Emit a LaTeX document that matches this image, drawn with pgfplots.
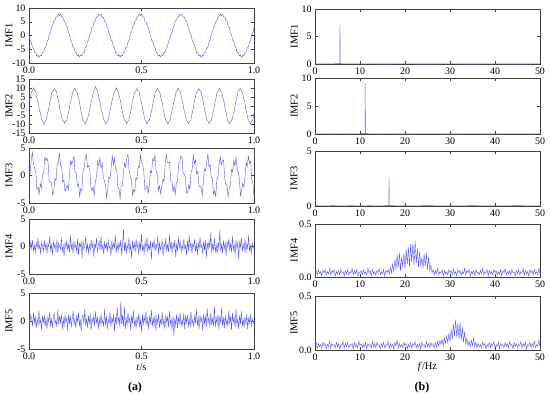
\documentclass[border=0pt]{standalone}
\usepackage{pgfplots}
\pgfplotsset{compat=1.18}
\usepackage{fontspec}
\setmainfont{Liberation Serif}
\definecolor{framecol}{RGB}{64,64,64}
\definecolor{sigcol}{RGB}{85,85,255}
\pgfplotsset{
  base/.style={
    scale only axis, width=225bp,
    axis line style={framecol, line width=0.6bp},
    tick style={framecol, line width=0.5bp},
    tick align=inside, major tick length=3bp,
    tick label style={font=\fontsize{10}{11}\selectfont, text=black},
    label style={font=\fontsize{10.5}{12}\selectfont},
    ylabel style={anchor=center},
    clip=true,
  },
  leftax/.style={base, xmin=0, xmax=1000, xtick={0,500,1000}, xticklabels={0.0,0.5,1.0},
    ylabel style={at={(axis description cs:-0.089,0.5)}}},
  rightax/.style={base, xmin=0, xmax=50, xtick={0,10,20,30,40,50}, xticklabels={0,10,20,30,40,50},
    ylabel style={at={(axis description cs:-0.093,0.5)}}},
  sig/.style={sigcol, line width=0.4bp},
}
\begin{document}
\begin{tikzpicture}
\useasboundingbox (0,0) rectangle (550bp,-398bp);
% ---------------- left column: time domain ----------------
\begin{axis}[leftax, at={(29bp,-8bp)}, anchor=north west, height=55bp,
  ymin=-10, ymax=10, ytick={-10,-5,0,5,10}, yticklabels={-10,-5,0,5,10}, ylabel={IMF1}]
\addplot[sig] coordinates {(0,0.3)(5,-1.5)(10,-2.3)(15,-4.2)(20,-4.6)(25,-6.1)(30,-6.1)(35,-7.6)(40,-7.1)(45,-7.9)(50,-7.2)(55,-7.4)(60,-6.0)(65,-6.0)(70,-4.5)(75,-4.2)(80,-2.4)(85,-1.6)(90,0.4)(95,1.1)(100,2.9)(105,3.5)(110,5.2)(115,5.6)(120,6.8)(125,6.7)(130,7.9)(135,7.2)(140,7.8)(145,6.9)(150,6.8)(155,5.4)(160,5.0)(165,3.5)(170,3.0)(175,1.1)(180,0.3)(185,-1.7)(190,-2.4)(195,-4.1)(200,-4.4)(205,-6.0)(210,-6.2)(215,-7.5)(220,-7.1)(225,-7.8)(230,-7.0)(235,-7.4)(240,-6.3)(245,-6.2)(250,-4.5)(255,-4.0)(260,-2.2)(265,-1.6)(270,0.2)(275,1.0)(280,3.0)(285,3.6)(290,5.1)(295,5.4)(300,6.8)(305,6.8)(310,7.8)(315,7.3)(320,7.7)(325,6.7)(330,6.7)(335,5.5)(340,5.2)(345,3.6)(350,2.9)(355,0.9)(360,0.2)(365,-1.6)(370,-2.2)(375,-4.0)(380,-4.5)(385,-6.2)(390,-6.2)(395,-7.4)(400,-7.0)(405,-7.9)(410,-7.2)(415,-7.4)(420,-6.1)(425,-6.0)(430,-4.5)(435,-4.2)(440,-2.4)(445,-1.6)(450,0.4)(455,1.1)(460,2.9)(465,3.4)(470,5.0)(475,5.5)(480,6.9)(485,6.9)(490,7.9)(495,7.2)(500,7.8)(505,6.8)(510,6.7)(515,5.4)(520,5.1)(525,3.6)(530,3.0)(535,1.0)(540,0.2)(545,-1.7)(550,-2.3)(555,-4.0)(560,-4.4)(565,-6.1)(570,-6.3)(575,-7.5)(580,-7.1)(585,-7.8)(590,-7.0)(595,-7.3)(600,-6.2)(605,-6.2)(610,-4.6)(615,-4.1)(620,-2.2)(625,-1.5)(630,0.3)(635,0.9)(640,2.8)(645,3.5)(650,5.2)(655,5.6)(660,6.8)(665,6.7)(670,7.8)(675,7.3)(680,7.7)(685,6.7)(690,6.7)(695,5.5)(700,5.2)(705,3.6)(710,2.9)(715,0.9)(720,0.2)(725,-1.6)(730,-2.2)(735,-4.0)(740,-4.5)(745,-6.2)(750,-6.2)(755,-7.4)(760,-7.0)(765,-7.9)(770,-7.2)(775,-7.4)(780,-6.1)(785,-6.0)(790,-4.5)(795,-4.2)(800,-2.4)(805,-1.6)(810,0.4)(815,1.1)(820,2.9)(825,3.4)(830,5.0)(835,5.5)(840,6.9)(845,6.9)(850,7.8)(855,7.2)(860,7.7)(865,6.7)(870,6.7)(875,5.5)(880,5.2)(885,3.6)(890,2.9)(895,0.9)(900,0.2)(905,-1.6)(910,-2.2)(915,-4.0)(920,-4.5)(925,-6.2)(930,-6.2)(935,-7.4)(940,-7.0)(945,-7.9)(950,-7.2)(955,-7.4)(960,-6.1)(965,-6.0)(970,-4.5)(975,-4.2)(980,-2.4)(985,-1.6)(990,0.4)(995,1.1)(1000,2.9)};
\end{axis}
\begin{axis}[leftax, at={(29bp,-79bp)}, anchor=north west, height=54bp,
  ymin=-15, ymax=15, ytick={-15,-10,-5,0,5,10,15}, yticklabels={-15,-10,-5,0,5,10,15}, ylabel={IMF2}]
\addplot[sig] coordinates {(0,2.1)(5.1,4.3)(10.2,7.5)(15.3,8.6)(20.4,10.1)(25.5,8.7)(30.6,7.6)(35.7,4.2)(40.8,1.8)(45.9,-2.1)(51,-4.3)(56.1,-7.4)(61.2,-8.6)(66.3,-10.0)(71.4,-8.7)(76.5,-7.6)(81.6,-4.2)(86.7,-2.1)(91.8,1.8)(96.9,4.6)(102,7.7)(107.1,8.4)(112.2,9.7)(117.3,8.6)(122.4,7.9)(127.5,4.6)(132.6,2.0)(137.7,-2.3)(142.8,-4.7)(147.9,-7.7)(153,-8.4)(158.1,-9.6)(163.2,-8.6)(168.3,-7.8)(173.4,-4.6)(178.5,-2.0)(183.6,2.3)(188.7,4.4)(193.8,7.4)(198.9,8.7)(204,9.9)(209.1,8.4)(214.2,7.5)(219.3,4.5)(224.4,2.3)(229.5,-1.9)(234.6,-4.5)(239.7,-7.9)(244.8,-8.8)(249.9,-9.9)(255,-8.4)(260.1,-7.4)(265.2,-4.5)(270.3,-2.2)(275.4,1.9)(280.5,4.5)(285.6,7.9)(290.7,8.5)(295.8,10.8)(300.9,9.4)(306,7.7)(311.1,4.3)(316.2,1.9)(321.3,-2.0)(326.4,-4.2)(331.5,-7.5)(336.6,-8.6)(341.7,-10.1)(346.8,-8.8)(351.9,-7.7)(357,-4.3)(362.1,-1.8)(367.2,2.0)(372.3,4.3)(377.4,7.5)(382.5,8.6)(387.6,10.1)(392.7,8.5)(397.8,7.4)(402.9,4.6)(408,2.1)(413.1,-2.2)(418.2,-4.6)(423.3,-7.6)(428.4,-8.3)(433.5,-9.7)(438.6,-8.6)(443.7,-7.9)(448.8,-4.7)(453.9,-2.1)(459,2.2)(464.1,4.7)(469.2,7.6)(474.3,8.4)(479.4,9.7)(484.5,8.6)(489.6,7.9)(494.7,4.4)(499.8,1.8)(504.9,-1.9)(510,-4.4)(515.1,-7.8)(520.2,-8.7)(525.3,-9.8)(530.4,-8.3)(535.5,-7.5)(540.6,-4.5)(545.7,-2.3)(550.8,1.8)(555.9,4.4)(561,7.8)(566.1,8.8)(571.2,9.8)(576.3,8.4)(581.4,7.5)(586.5,4.5)(591.6,2.3)(596.7,-2.1)(601.8,-4.7)(606.9,-7.5)(612,-8.5)(617.1,-10.0)(622.2,-8.7)(627.3,-7.6)(632.4,-4.2)(637.5,-1.9)(642.6,2.0)(647.7,4.2)(652.8,7.4)(657.9,8.5)(663,10.0)(668.1,8.8)(673.2,7.6)(678.3,4.3)(683.4,1.9)(688.5,-2.0)(693.6,-4.2)(698.7,-7.7)(703.8,-8.8)(708.9,-9.7)(714,-8.5)(719.1,-7.8)(724.2,-4.6)(729.3,-2.0)(734.4,2.3)(739.5,4.6)(744.6,7.6)(749.7,8.3)(754.8,9.6)(759.9,8.5)(765,7.8)(770.1,4.7)(775.2,2.0)(780.3,-2.2)(785.4,-4.6)(790.5,-7.6)(795.6,-8.3)(800.7,-9.9)(805.8,-8.8)(810.9,-7.5)(816,-4.4)(821.1,-2.2)(826.2,1.9)(831.3,4.5)(836.4,7.9)(841.5,8.7)(846.6,9.8)(851.7,8.3)(856.8,7.4)(861.9,4.4)(867,2.2)(872.1,-1.8)(877.2,-4.5)(882.3,-7.8)(887.4,-8.7)(892.5,-9.8)(897.6,-8.3)(902.7,-7.5)(907.8,-4.5)(912.9,-2.3)(918,1.8)(923.1,4.4)(928.2,7.8)(933.3,8.8)(938.4,9.8)(943.5,8.4)(948.6,7.5)(953.7,4.5)(958.8,2.3)(963.9,-2.1)(969,-4.7)(974.1,-7.5)(979.2,-8.5)(984.3,-10.0)(989.4,-8.7)(994.5,-7.6)(999.6,-4.2)};
\end{axis}
\begin{axis}[leftax, at={(29bp,-148bp)}, anchor=north west, height=55bp,
  ymin=-5, ymax=5, ytick={-5,0,5}, yticklabels={-5,0,5}, ylabel={IMF3}]
\addplot[sig] coordinates {(0,0.8)(5,0.4)(10,2.9)(15,4.2)(20,2.0)(25,1.3)(30,0.9)(35,-2.5)(40,-2.1)(45,-3.4)(50,-1.5)(55,-2.3)(60,0.2)(65,0.3)(70,3.3)(75,2.7)(80,3.2)(85,2.3)(90,-1.1)(95,-1.2)(100,-1.4)(105,-3.6)(110,-2.8)(115,-0.6)(120,-1.0)(125,2.0)(130,2.2)(135,4.1)(140,1.8)(145,1.7)(150,-1.2)(155,-0.8)(160,-2.9)(165,-2.4)(170,-1.8)(175,-2.6)(180,0.3)(185,2.7)(190,2.0)(195,2.8)(200,3.5)(205,0.5)(210,0.5)(215,-1.9)(220,-1.5)(225,-3.8)(230,-2.4)(235,-2.7)(240,0.7)(245,1.2)(250,3.2)(255,3.8)(260,1.5)(265,1.8)(270,1.2)(275,-2.1)(280,-2.8)(285,-2.1)(290,-3.6)(295,-1.0)(300,-0.4)(305,2.6)(310,1.8)(315,3.2)(320,1.4)(325,2.2)(330,-0.3)(335,-0.9)(340,-1.8)(345,-4.1)(350,-2.3)(355,-0.3)(360,-0.6)(365,1.3)(370,3.5)(375,2.0)(380,3.1)(385,1.1)(390,1.1)(395,-2.3)(400,-2.4)(405,-4.2)(410,-1.9)(415,-1.8)(420,0.6)(425,2.3)(430,1.5)(435,3.3)(440,3.8)(445,0.9)(450,-0.2)(455,-0.6)(460,-3.6)(465,-2.5)(470,-3.0)(475,-0.4)(480,-0.8)(485,1.7)(490,1.4)(495,3.7)(500,2.3)(505,2.1)(510,0.8)(515,-2.6)(520,-2.3)(525,-1.8)(530,-3.2)(535,-1.7)(540,0.9)(545,0.5)(550,3.1)(555,2.6)(560,3.7)(565,0.7)(570,0.2)(575,-2.7)(580,-1.9)(585,-3.3)(590,-2.0)(595,-0.7)(600,-1.1)(605,1.8)(610,3.8)(615,2.4)(620,2.4)(625,2.4)(630,-1.0)(635,-1.0)(640,-3.0)(645,-1.9)(650,-3.4)(655,-1.3)(660,-1.2)(665,2.2)(670,2.3)(675,3.6)(680,3.4)(685,0.4)(690,0.3)(695,-0.3)(700,-3.2)(705,-3.2)(710,-1.7)(715,-2.5)(720,0.5)(725,1.1)(730,3.7)(735,2.2)(740,2.8)(745,0.3)(750,0.7)(755,-1.8)(760,-2.0)(765,-2.2)(770,-3.7)(775,-1.2)(780,1.2)(785,0.9)(790,2.4)(795,3.9)(800,1.6)(805,2.0)(810,-0.4)(815,-0.4)(820,-3.4)(825,-2.8)(830,-3.8)(835,-0.8)(840,-0.3)(845,2.1)(850,3.4)(855,1.9)(860,2.9)(865,2.7)(870,-0.6)(875,-1.7)(880,-1.7)(885,-4.0)(890,-2.1)(895,-1.9)(900,1.1)(905,0.7)(910,2.8)(915,1.8)(920,3.3)(925,1.2)(930,0.6)(935,-0.7)(940,-3.7)(945,-2.7)(950,-1.4)(955,-2.1)(960,-0.2)(965,2.4)(970,1.6)(975,3.5)(980,2.2)(985,2.6)(990,-0.8)(995,-1.3)(1000,-3.8)};
\end{axis}
\begin{axis}[leftax, at={(29bp,-219bp)}, anchor=north west, height=55bp,
  ymin=-5, ymax=5, ytick={-5,0,5}, yticklabels={-5,0,5}, ylabel={IMF4}]
\addplot[sig] coordinates {(0,0.4)(4,-0.6)(8,0.9)(12,-0.3)(16,1.2)(20,-0.8)(24,0.2)(28,-1.1)(32,0.7)(36,-0.2)(40,1.5)(44,-0.5)(48,0.3)(52,-1.4)(56,0.8)(60,0.1)(64,-0.9)(68,1.1)(72,-0.4)(76,0.6)(80,-1.3)(84,0.5)(88,-0.1)(92,1.8)(96,-0.7)(100,0.3)(104,-1.6)(108,0.9)(112,-0.2)(116,0.4)(120,-0.8)(124,1.3)(128,-1.2)(132,0.6)(136,0.0)(140,-0.5)(144,1.6)(148,-0.9)(152,0.2)(156,-1.8)(160,0.7)(164,-0.3)(168,1.0)(172,-0.6)(176,0.4)(180,-1.1)(184,2.1)(188,-0.4)(192,0.5)(196,-1.3)(200,0.9)(204,-0.2)(208,0.3)(212,-0.9)(216,1.4)(220,-1.5)(224,0.6)(228,-0.1)(232,0.8)(236,-2.2)(240,1.1)(244,-0.5)(248,0.2)(252,1.7)(256,-0.8)(260,0.4)(264,-1.2)(268,0.3)(272,-0.6)(276,1.2)(280,-0.3)(284,0.7)(288,-1.9)(292,0.5)(296,-0.2)(300,1.5)(304,-1.0)(308,0.1)(312,0.9)(316,-0.7)(320,1.9)(324,-0.6)(328,0.3)(332,-1.4)(336,0.8)(340,-0.3)(344,0.5)(348,-1.0)(352,1.3)(356,-0.4)(360,0.2)(364,-1.7)(368,1.0)(372,-0.5)(376,0.6)(380,-0.2)(384,2.0)(388,-1.1)(392,0.4)(396,-0.8)(400,0.7)(404,-0.3)(408,1.2)(412,-1.6)(416,0.5)(420,3.2)(424,-0.9)(428,0.8)(432,-1.3)(436,0.3)(440,-0.5)(444,1.6)(448,-0.8)(452,0.2)(456,-2.1)(460,1.1)(464,-0.4)(468,0.6)(472,-1.0)(476,1.4)(480,-0.2)(484,0.5)(488,-1.5)(492,0.9)(496,-0.6)(500,2.3)(504,-0.7)(508,0.1)(512,-1.2)(516,0.8)(520,-0.4)(524,1.7)(528,-1.1)(532,0.3)(536,-0.5)(540,1.0)(544,-2.4)(548,0.6)(552,-0.1)(556,1.3)(560,-0.9)(564,0.4)(568,-0.3)(572,1.8)(576,-1.4)(580,0.7)(584,-0.6)(588,0.2)(592,1.1)(596,-1.7)(600,0.5)(604,-0.2)(608,1.5)(612,-0.8)(616,0.3)(620,-1.0)(624,2.2)(628,-0.5)(632,0.9)(636,-1.3)(640,0.6)(644,-0.3)(648,1.2)(652,-1.9)(656,0.4)(660,-0.7)(664,1.6)(668,-0.2)(672,0.8)(676,-1.1)(680,0.3)(684,-0.6)(688,1.4)(692,-0.4)(696,0.2)(700,-1.5)(704,1.0)(708,-0.8)(712,2.1)(716,-0.3)(720,0.7)(724,-1.2)(728,0.5)(732,-0.1)(736,1.3)(740,-0.9)(744,0.4)(748,-1.6)(752,0.8)(756,-0.5)(760,1.7)(764,-0.2)(768,0.3)(772,-1.3)(776,0.9)(780,-0.7)(784,1.2)(788,-2.0)(792,0.6)(796,-0.4)(800,1.0)(804,-0.3)(808,2.5)(812,-1.1)(816,0.4)(820,-0.6)(824,1.5)(828,-0.9)(832,0.2)(836,-1.4)(840,0.8)(844,-0.5)(848,3.0)(852,-0.8)(856,0.3)(860,-1.2)(864,1.1)(868,-0.4)(872,0.6)(876,-1.8)(880,0.9)(884,-0.2)(888,1.4)(892,-0.7)(896,0.5)(900,-1.0)(904,1.9)(908,-0.6)(912,0.3)(916,-1.5)(920,1.2)(924,-0.4)(928,0.7)(932,-2.3)(936,0.8)(940,-0.1)(944,1.6)(948,-0.9)(952,0.4)(956,-0.7)(960,1.3)(964,-1.1)(968,0.5)(972,-0.3)(976,2.0)(980,-0.8)(984,0.2)(988,-1.2)(992,0.6)(996,-0.4)(1000,0.3)};
\end{axis}
\begin{axis}[leftax, at={(29bp,-293bp)}, anchor=north west, height=56bp,
  ymin=-5, ymax=5, ytick={-5,0,5}, yticklabels={-5,0,5}, ylabel={IMF5},
  xlabel={\textit{t}/s}, xlabel style={at={(axis description cs:0.5,0)}, anchor=center, yshift=-18bp}]
\addplot[sig] coordinates {(0,0.6)(4,-0.4)(8,1.2)(12,0.3)(16,-0.9)(20,1.5)(24,-0.2)(28,0.8)(32,-1.3)(36,0.4)(40,-0.7)(44,1.9)(48,-0.5)(52,0.2)(56,-1.6)(60,0.9)(64,-0.3)(68,1.1)(72,-1.0)(76,0.5)(80,-1.4)(84,0.7)(88,-0.2)(92,1.6)(96,-0.8)(100,0.3)(104,-1.1)(108,0.6)(112,1.4)(116,-0.5)(120,0.2)(124,-1.2)(128,2.0)(132,-0.6)(136,0.8)(140,-0.3)(144,1.3)(148,-1.5)(152,0.4)(156,-0.9)(160,1.0)(164,-0.2)(168,0.5)(172,-1.7)(176,1.2)(180,-0.4)(184,0.7)(188,-1.0)(192,0.3)(196,1.8)(200,-0.6)(204,0.4)(208,-1.3)(212,0.9)(216,-0.1)(220,1.5)(224,-0.8)(228,0.2)(232,-1.9)(236,0.6)(240,1.1)(244,-0.5)(248,2.1)(252,-0.7)(256,0.3)(260,-1.2)(264,0.8)(268,-0.4)(272,1.4)(276,-1.6)(280,0.5)(284,-0.2)(288,1.0)(292,-0.9)(296,1.7)(300,-0.3)(304,0.6)(308,-1.4)(312,0.4)(316,-0.8)(320,1.3)(324,-0.5)(328,0.2)(332,-1.1)(336,2.2)(340,-0.7)(344,0.9)(348,-1.5)(352,0.3)(356,-0.4)(360,1.6)(364,-1.0)(368,0.5)(372,-0.2)(376,1.2)(380,-1.8)(384,0.7)(388,-0.6)(392,2.4)(396,-0.3)(400,0.8)(404,-1.2)(408,3.5)(412,-0.5)(416,1.1)(420,-0.9)(424,2.6)(428,-1.4)(432,0.4)(436,-0.7)(440,1.5)(444,-0.3)(448,0.6)(452,-1.6)(456,1.0)(460,-0.4)(464,1.9)(468,-0.8)(472,0.2)(476,-1.3)(480,0.9)(484,-0.5)(488,1.4)(492,-1.1)(496,0.3)(500,-2.0)(504,1.2)(508,-0.6)(512,0.7)(516,-0.2)(520,1.7)(524,-0.9)(528,0.4)(532,-1.5)(536,0.8)(540,-0.3)(544,2.0)(548,-1.0)(552,0.5)(556,-0.7)(560,1.1)(564,-1.8)(568,0.6)(572,-0.4)(576,1.3)(580,-1.2)(584,0.2)(588,-0.6)(592,1.6)(596,-0.9)(600,0.4)(604,-1.4)(608,1.0)(612,-0.2)(616,0.7)(620,-1.1)(624,1.8)(628,-0.5)(632,0.3)(636,-1.6)(640,0.9)(644,-2.6)(648,0.5)(652,-0.8)(656,1.2)(660,-1.3)(664,0.6)(668,-0.4)(672,1.5)(676,-1.0)(680,0.2)(684,-0.7)(688,1.4)(692,-1.5)(696,0.8)(700,-0.3)(704,1.1)(708,-0.9)(712,0.4)(716,-1.2)(720,1.7)(724,-0.6)(728,0.3)(732,-1.1)(736,0.9)(740,-0.4)(744,2.1)(748,-0.8)(752,0.5)(756,-1.4)(760,1.0)(764,-0.2)(768,0.6)(772,-1.7)(776,1.3)(780,-0.5)(784,0.8)(788,-1.0)(792,2.3)(796,-0.3)(800,0.7)(804,-1.2)(808,1.5)(812,-0.6)(816,0.4)(820,-0.9)(824,2.6)(828,-1.1)(832,0.6)(836,-0.5)(840,1.2)(844,-1.5)(848,0.9)(852,-0.3)(856,2.4)(860,-0.8)(864,0.5)(868,-1.3)(872,1.1)(876,-0.7)(880,0.3)(884,-1.0)(888,1.9)(892,-0.4)(896,0.8)(900,-1.6)(904,1.4)(908,-0.2)(912,0.6)(916,-1.1)(920,2.2)(924,-0.7)(928,0.4)(932,-1.4)(936,1.0)(940,-0.5)(944,1.7)(948,-0.9)(952,0.3)(956,-1.2)(960,0.8)(964,-0.6)(968,1.3)(972,-1.5)(976,0.5)(980,-0.3)(984,1.0)(988,-0.8)(992,0.4)(996,-0.2)(1000,-0.6)};
\end{axis}
% ---------------- right column: spectra ----------------
\begin{axis}[rightax, at={(315bp,-9bp)}, anchor=north west, height=55bp,
  ymin=0, ymax=10, ytick={0,5,10}, yticklabels={0,5,10}, ylabel={IMF1}]
\addplot[sig] coordinates {(0,0.05)(1,0.03)(2,0.04)(3,0.03)(4,0.05)(5,0.06)(5.5,0.08)(5.55,7.3)(5.6,0.08)(6,0.05)(7,0.03)(8,0.04)(10,0.03)(12,0.04)(15,0.03)(20,0.04)(25,0.03)(30,0.04)(35,0.03)(40,0.04)(45,0.03)(50,0.03)};
\end{axis}
\begin{axis}[rightax, at={(315bp,-78bp)}, anchor=north west, height=56bp,
  ymin=0, ymax=10, ytick={0,5,10}, yticklabels={0,5,10}, ylabel={IMF2}]
\addplot[sig] coordinates {(0,0.04)(1,0.03)(2,0.05)(4,0.03)(6,0.04)(8,0.03)(10,0.05)(10.9,0.06)(11.1,0.08)(11.15,9.1)(11.2,0.08)(12,0.04)(14,0.03)(16,0.04)(20,0.03)(25,0.04)(30,0.03)(35,0.04)(40,0.03)(45,0.04)(50,0.03)};
\end{axis}
\begin{axis}[rightax, at={(315bp,-151bp)}, anchor=north west, height=55bp,
  ymin=0, ymax=5, ytick={0,5}, yticklabels={0,5}, ylabel={IMF3}]
\addplot[sig] coordinates {(0,0.03)(2,0.02)(4,0.03)(6,0.02)(8,0.03)(10,0.02)(12,0.03)(14,0.02)(16,0.03)(16.4,0.04)(16.45,2.55)(16.5,0.04)(17,0.03)(20,0.02)(25,0.03)(30,0.02)(35,0.03)(40,0.02)(45,0.03)(50,0.02)};
\end{axis}
\begin{axis}[rightax, at={(315bp,-224bp)}, anchor=north west, height=53bp,
  ymin=0, ymax=0.5, ytick={0,0.5}, yticklabels={0.0,0.5}, ylabel={IMF4}]
\addplot[sig] coordinates {(0,0.03)(0.25,0.06)(0.5,0.02)(0.75,0.07)(1,0.03)(1.25,0.05)(1.5,0.01)(1.75,0.06)(2,0.04)(2.25,0.07)(2.5,0.02)(2.75,0.05)(3,0.03)(3.25,0.08)(3.5,0.02)(3.75,0.06)(4,0.04)(4.25,0.07)(4.5,0.01)(4.75,0.05)(5,0.03)(5.25,0.06)(5.5,0.02)(5.75,0.07)(6,0.04)(6.25,0.05)(6.5,0.01)(6.75,0.06)(7,0.03)(7.25,0.07)(7.5,0.02)(7.75,0.05)(8,0.04)(8.25,0.08)(8.5,0.02)(8.75,0.06)(9,0.03)(9.25,0.07)(9.5,0.01)(9.75,0.05)(10,0.04)(10.25,0.06)(10.5,0.02)(10.75,0.07)(11,0.03)(11.25,0.05)(11.5,0.02)(11.75,0.08)(12,0.04)(12.25,0.06)(12.5,0.01)(12.75,0.07)(13,0.03)(13.25,0.05)(13.5,0.02)(13.75,0.06)(14,0.04)(14.25,0.08)(14.5,0.02)(14.75,0.05)(15,0.03)(15.25,0.07)(15.5,0.01)(15.75,0.06)(16,0.04)(16.25,0.07)(16.5,0.03)(16.75,0.09)(17,0.04)(17.25,0.12)(17.5,0.05)(17.75,0.17)(18,0.07)(18.25,0.21)(18.5,0.09)(18.75,0.23)(19,0.06)(19.25,0.19)(19.5,0.10)(19.75,0.22)(20,0.08)(20.25,0.26)(20.5,0.12)(20.75,0.28)(21,0.10)(21.25,0.31)(21.5,0.14)(21.75,0.32)(22,0.11)(22.25,0.34)(22.5,0.13)(22.75,0.27)(23,0.09)(23.25,0.24)(23.5,0.11)(23.75,0.18)(24,0.08)(24.25,0.22)(24.5,0.10)(24.75,0.23)(25,0.07)(25.25,0.19)(25.5,0.06)(25.75,0.11)(26,0.04)(26.25,0.07)(26.5,0.02)(26.75,0.06)(27,0.03)(27.25,0.08)(27.5,0.02)(27.75,0.05)(28,0.04)(28.25,0.07)(28.5,0.01)(28.75,0.06)(29,0.03)(29.25,0.05)(29.5,0.02)(29.75,0.07)(30,0.04)(30.25,0.06)(30.5,0.02)(30.75,0.08)(31,0.03)(31.25,0.05)(31.5,0.01)(31.75,0.07)(32,0.04)(32.25,0.06)(32.5,0.02)(32.75,0.05)(33,0.03)(33.25,0.08)(33.5,0.02)(33.75,0.06)(34,0.04)(34.25,0.07)(34.5,0.01)(34.75,0.05)(35,0.03)(35.25,0.06)(35.5,0.02)(35.75,0.07)(36,0.04)(36.25,0.05)(36.5,0.02)(36.75,0.06)(37,0.03)(37.25,0.08)(37.5,0.02)(37.75,0.05)(38,0.04)(38.25,0.07)(38.5,0.01)(38.75,0.06)(39,0.03)(39.25,0.05)(39.5,0.02)(39.75,0.07)(40,0.04)(40.25,0.06)(40.5,0.02)(40.75,0.05)(41,0.03)(41.25,0.07)(41.5,0.01)(41.75,0.06)(42,0.04)(42.25,0.08)(42.5,0.02)(42.75,0.05)(43,0.03)(43.25,0.06)(43.5,0.02)(43.75,0.07)(44,0.04)(44.25,0.05)(44.5,0.01)(44.75,0.06)(45,0.03)(45.25,0.07)(45.5,0.02)(45.75,0.05)(46,0.04)(46.25,0.08)(46.5,0.02)(46.75,0.06)(47,0.03)(47.25,0.05)(47.5,0.01)(47.75,0.07)(48,0.04)(48.25,0.06)(48.5,0.02)(48.75,0.07)(49,0.03)(49.25,0.05)(49.5,0.02)(49.75,0.08)(50,0.03)};
\end{axis}
\begin{axis}[rightax, at={(315bp,-296bp)}, anchor=north west, height=54bp,
  ymin=0, ymax=0.5, ytick={0,0.5}, yticklabels={0.0,0.5}, ylabel={IMF5},
  xlabel={\textit{f}/Hz}, xlabel style={at={(axis description cs:0.5,0)}, anchor=center, yshift=-17bp}]
\addplot[sig] coordinates {(0,0.04)(0.25,0.07)(0.5,0.02)(0.75,0.06)(1,0.03)(1.25,0.05)(1.5,0.02)(1.75,0.07)(2,0.04)(2.25,0.06)(2.5,0.01)(2.75,0.05)(3,0.03)(3.25,0.08)(3.5,0.02)(3.75,0.06)(4,0.04)(4.25,0.05)(4.5,0.02)(4.75,0.07)(5,0.03)(5.25,0.06)(5.5,0.01)(5.75,0.05)(6,0.04)(6.25,0.08)(6.5,0.02)(6.75,0.06)(7,0.03)(7.25,0.07)(7.5,0.02)(7.75,0.05)(8,0.04)(8.25,0.06)(8.5,0.01)(8.75,0.07)(9,0.03)(9.25,0.05)(9.5,0.02)(9.75,0.08)(10,0.04)(10.25,0.06)(10.5,0.02)(10.75,0.05)(11,0.03)(11.25,0.07)(11.5,0.01)(11.75,0.06)(12,0.04)(12.25,0.05)(12.5,0.02)(12.75,0.08)(13,0.03)(13.25,0.06)(13.5,0.02)(13.75,0.07)(14,0.04)(14.25,0.05)(14.5,0.01)(14.75,0.06)(15,0.03)(15.25,0.07)(15.5,0.02)(15.75,0.05)(16,0.04)(16.25,0.08)(16.5,0.02)(16.75,0.06)(17,0.03)(17.25,0.05)(17.5,0.01)(17.75,0.07)(18,0.04)(18.25,0.09)(18.5,0.02)(18.75,0.06)(19,0.03)(19.25,0.05)(19.5,0.02)(19.75,0.07)(20,0.04)(20.25,0.06)(20.5,0.01)(20.75,0.05)(21,0.03)(21.25,0.07)(21.5,0.02)(21.75,0.06)(22,0.04)(22.25,0.08)(22.5,0.02)(22.75,0.05)(23,0.03)(23.25,0.06)(23.5,0.01)(23.75,0.07)(24,0.04)(24.25,0.05)(24.5,0.02)(24.75,0.08)(25,0.03)(25.25,0.06)(25.5,0.02)(25.75,0.07)(26,0.04)(26.25,0.05)(26.5,0.02)(26.75,0.07)(27,0.03)(27.25,0.08)(27.5,0.04)(27.75,0.09)(28,0.05)(28.25,0.10)(28.5,0.04)(28.75,0.11)(29,0.06)(29.25,0.13)(29.5,0.07)(29.75,0.15)(30,0.08)(30.25,0.19)(30.5,0.10)(30.75,0.24)(31,0.13)(31.25,0.28)(31.5,0.12)(31.75,0.25)(32,0.10)(32.25,0.26)(32.5,0.09)(32.75,0.21)(33,0.07)(33.25,0.17)(33.5,0.05)(33.75,0.11)(34,0.04)(34.25,0.08)(34.5,0.03)(34.75,0.09)(35,0.04)(35.25,0.11)(35.5,0.03)(35.75,0.07)(36,0.02)(36.25,0.06)(36.5,0.03)(36.75,0.05)(37,0.02)(37.25,0.07)(37.5,0.04)(37.75,0.06)(38,0.01)(38.25,0.05)(38.5,0.03)(38.75,0.07)(39,0.02)(39.25,0.06)(39.5,0.04)(39.75,0.08)(40,0.02)(40.25,0.05)(40.5,0.03)(40.75,0.07)(41,0.01)(41.25,0.06)(41.5,0.04)(41.75,0.05)(42,0.02)(42.25,0.07)(42.5,0.03)(42.75,0.06)(43,0.02)(43.25,0.08)(43.5,0.04)(43.75,0.05)(44,0.01)(44.25,0.07)(44.5,0.03)(44.75,0.06)(45,0.02)(45.25,0.05)(45.5,0.04)(45.75,0.08)(46,0.02)(46.25,0.06)(46.5,0.03)(46.75,0.07)(47,0.01)(47.25,0.05)(47.5,0.04)(47.75,0.07)(48,0.02)(48.25,0.06)(48.5,0.03)(48.75,0.08)(49,0.02)(49.25,0.05)(49.5,0.04)(49.75,0.09)(50,0.03)};
\end{axis}
\node[font=\bfseries\fontsize{12}{14}\selectfont] at (135bp,-388bp) {(a)};
\node[font=\bfseries\fontsize{12}{14}\selectfont] at (422bp,-388bp) {(b)};
\end{tikzpicture}
\end{document}
